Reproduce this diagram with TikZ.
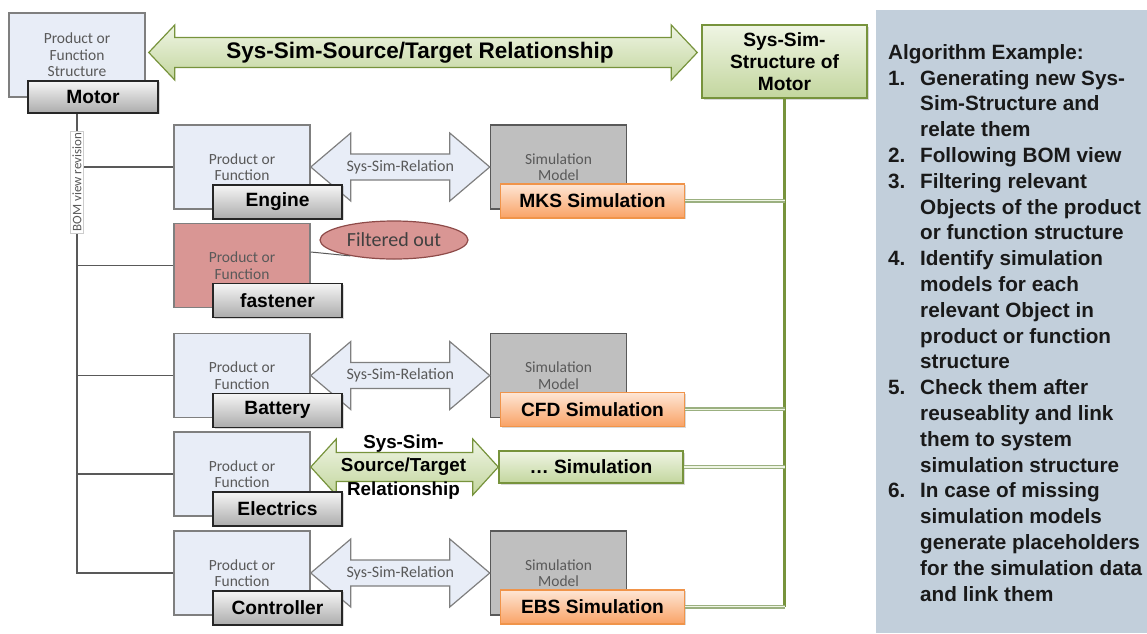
\documentclass[tikz,border=0pt]{standalone}
\usepackage{fontspec}
\setmainfont{Liberation Sans}
\newfontfamily\calfont{Carlito}
\usetikzlibrary{calc,positioning,shapes.geometric,shadows}

\definecolor{pfblue}{HTML}{E8EDF7}
\definecolor{pfline}{HTML}{7F7F7F}
\definecolor{txtgray}{HTML}{595959}
\definecolor{simgray}{HTML}{BFBFBF}
\definecolor{simline}{HTML}{595959}
\definecolor{tagtop}{HTML}{F6F6F6}
\definecolor{tagbot}{HTML}{ACACAC}
\definecolor{ortop}{HTML}{FEE7D6}
\definecolor{orbot}{HTML}{F9A266}
\definecolor{orline}{HTML}{F0944A}
\definecolor{grtop}{HTML}{EFF5E4}
\definecolor{grbot}{HTML}{C3D69E}
\definecolor{grline}{HTML}{77933C}
\definecolor{redfill}{HTML}{D99694}
\definecolor{redline}{HTML}{8E4B49}
\definecolor{panel}{HTML}{C2CFDB}
\definecolor{linkgreen}{HTML}{9BB080}

\newcommand{\stepno}[1]{\makebox[32pt][l]{#1.}}
\newcommand{\stepin}{\hspace*{32pt}}
% block arrow with two heads: style, left tip, right tip, head length, head half height, shaft half height
\newcommand{\dblarrow}[6]{%
  \draw[#1] (#2) -- ($(#2)+(#4,-#5)$) -- ($(#2)+(#4,-#6)$) -- ($(#3)+(-#4,-#6)$) -- ($(#3)+(-#4,-#5)$)
    -- (#3) -- ($(#3)+(-#4,#5)$) -- ($(#3)+(-#4,#6)$) -- ($(#2)+(#4,#6)$) -- ($(#2)+(#4,#5)$) -- cycle;}

\begin{document}
\begin{tikzpicture}
  [
   x=1pt,y=-1pt,
   pf/.style={rectangle,draw=pfline,line width=1.5pt,fill=pfblue,minimum width=136pt,minimum height=84pt,inner sep=0pt,font=\calfont\fontsize{15.5}{16.5}\selectfont,text=txtgray,align=center},
   pfred/.style={pf,fill=redfill},
   sim/.style={pf,draw=simline,fill=simgray},
   tag/.style={rectangle,draw=black!85,line width=1.5pt,top color=tagtop,bottom color=tagbot,minimum width=129pt,minimum height=34pt,inner sep=0pt,font=\fontsize{19.2}{22}\selectfont\bfseries,drop shadow={opacity=0.3,shadow xshift=1.5pt,shadow yshift=-1.5pt}},
   simtag/.style={tag,draw=orline,top color=ortop,bottom color=orbot,minimum width=184pt},
   grtag/.style={tag,draw=grline,top color=grtop,bottom color=grbot},
   rel/.style={draw=pfline,line width=1.2pt,fill=pfblue,line join=miter},
   reltext/.style={font=\calfont\fontsize{16}{17}\selectfont,text=txtgray},
   srcrel/.style={draw=grline,line width=1.2pt,top color=grtop,bottom color=grbot,line join=miter},
   link/.style={draw=linkgreen,line width=1.2pt,double=grtop,double distance=1.2pt},
   bom/.style={draw=black!65,line width=1.5pt}
  ]
  \useasboundingbox (0,0) rectangle (1147,633);

  % algorithm panel
  \node[fill=panel,minimum width=271pt,minimum height=623pt,inner sep=0pt,anchor=north west] (algo) at (876,10) {};
  \node[anchor=north west,align=left,inner sep=0pt,text=black!90,font=\fontsize{20.7}{25.8}\selectfont\bfseries] (steps) at (888,44)
   {Algorithm Example:\\
    \stepno{1}Generating new Sys-\\
    \stepin Sim-Structure and\\
    \stepin relate them\\
    \stepno{2}Following BOM view\\
    \stepno{3}Filtering relevant\\
    \stepin Objects of the product\\
    \stepin or function structure\\
    \stepno{4}Identify simulation\\
    \stepin models for each\\
    \stepin relevant Object in\\
    \stepin product or function\\
    \stepin structure\\
    \stepno{5}Check them after\\
    \stepin reuseablity and link\\
    \stepin them to system\\
    \stepin simulation structure\\
    \stepno{6}In case of missing\\
    \stepin simulation models\\
    \stepin generate placeholders\\
    \stepin for the simulation data\\
    \stepin and link them};

  % product or function structure
  \node[pf] (pfs) at (77,55) {Product or\\Function\\Structure};
  \node[pf] (pf1) at (242,167) {Product or\\Function};
  \node[pfred] (pf2) at (242,265.5) {Product or\\Function};
  \node[pf] (pf3) at (242,375.5) {Product or\\Function};
  \node[pf] (pf4) at (242,474) {Product or\\Function};
  \node[pf] (pf5) at (242,573) {Product or\\Function};

  \node[sim] (sim1) [right=179pt of pf1] {Simulation\\Model};
  \node[sim] (sim3) [right=179pt of pf3] {Simulation\\Model};
  \node[sim] (sim5) [right=179pt of pf5] {Simulation\\Model};

  % BOM view
  \draw[bom] (pfs.south) -- (pfs.south |- pf5.west) -- (pf5.west);
  \foreach \n in {1,...,4}
    \draw[bom] (pfs.south |- pf\n.west) -- (pf\n.west);
  \node[draw=black!20,fill=white,rotate=90,inner sep=2pt,font=\calfont\fontsize{13}{14}\selectfont,text=txtgray] (bomlbl) at (77,182) {BOM view revision};

  \node[ellipse,draw=redline,line width=1.2pt,fill=redfill,minimum width=148pt,minimum height=38pt,inner sep=0pt,font=\calfont\fontsize{20}{22}\selectfont,text=black!75] (filt) at (394,240) {Filtered out};
  \draw[black!65,line width=1pt] ($(pf2.east)+(0,-13.5)$) -- (filt.200);

  % system simulation structure
  \node[grtag,minimum width=165pt,minimum height=73pt,align=center] (sss) at (784.5,61.5) {Sys-Sim-\\Structure of\\Motor};
  \node[grtag,minimum width=184pt,minimum height=32pt] (dots) at (591,467) {… Simulation};

  % relationship arrows
  \coordinate (topl) at ($(pfs.east)+(3,-2.5)$);
  \coordinate (topr) at ($(topl -| sss.west)+(-4,0)$);
  \dblarrow{srcrel}{topl}{topr}{26}{27.5}{15}
  \node[font=\fontsize{22.5}{24}\selectfont\bfseries] (toptext) at ($(topl)!0.5!(topr)+(-3,0)$) {Sys-Sim-Source/Target Relationship};

  \foreach \n in {1,3,5} {
    \dblarrow{rel}{pf\n.east}{sim\n.west}{40}{34}{13}
    \node[reltext] (rel\n) at ($(pf\n.east)!0.5!(sim\n.west)$) {Sys-Sim-Relation};
  }

  \coordinate (srcl) at ($(pf4.east)+(0,-7)$);
  \coordinate (srcr) at (srcl -| dots.west);
  \dblarrow{srcrel}{srcl}{srcr}{25.5}{28}{14.5}
  \node[align=center,font=\fontsize{18.8}{23.5}\selectfont\bfseries] (srctext) at ($(srcl)!0.5!(srcr)+(-1,0)$) {Sys-Sim-\\Source/Target\\Relationship};

  % tags
  \node[tag,minimum width=130pt,minimum height=32pt] (motor) at ($(pfs.south)+(16,-1)$) {Motor};
  \node[tag] (engine) at ($(pf1.south)+(35.5,-8)$) {Engine};
  \node[tag] (fastener) at ($(pf2.south)+(35.5,-8)$) {fastener};
  \node[tag] (battery) at ($(pf3.south)+(35.5,-8)$) {Battery};
  \node[tag] (electrics) at ($(pf4.south)+(35.5,-8)$) {Electrics};
  \node[tag] (controller) at ($(pf5.south)+(35.5,-8)$) {Controller};

  \node[simtag] (mks) at ($(sim1.south)+(34,-9)$) {MKS Simulation};
  \node[simtag] (cfd) at ($(sim3.south)+(34,-9)$) {CFD Simulation};
  \node[simtag] (ebs) at ($(sim5.south)+(34,-9)$) {EBS Simulation};

  % links to the system simulation structure
  \draw[grline,line width=2.5pt] (sss.south) -- (sss.south |- ebs.east);
  \draw[link] (mks.east) -- (mks.east -| sss.south);
  \draw[link] (cfd.east) -- (cfd.east -| sss.south);
  \draw[link] (dots.east) -- (dots.east -| sss.south);
  \draw[link] (ebs.east) -- (ebs.east -| sss.south);

\end{tikzpicture}
\end{document}
